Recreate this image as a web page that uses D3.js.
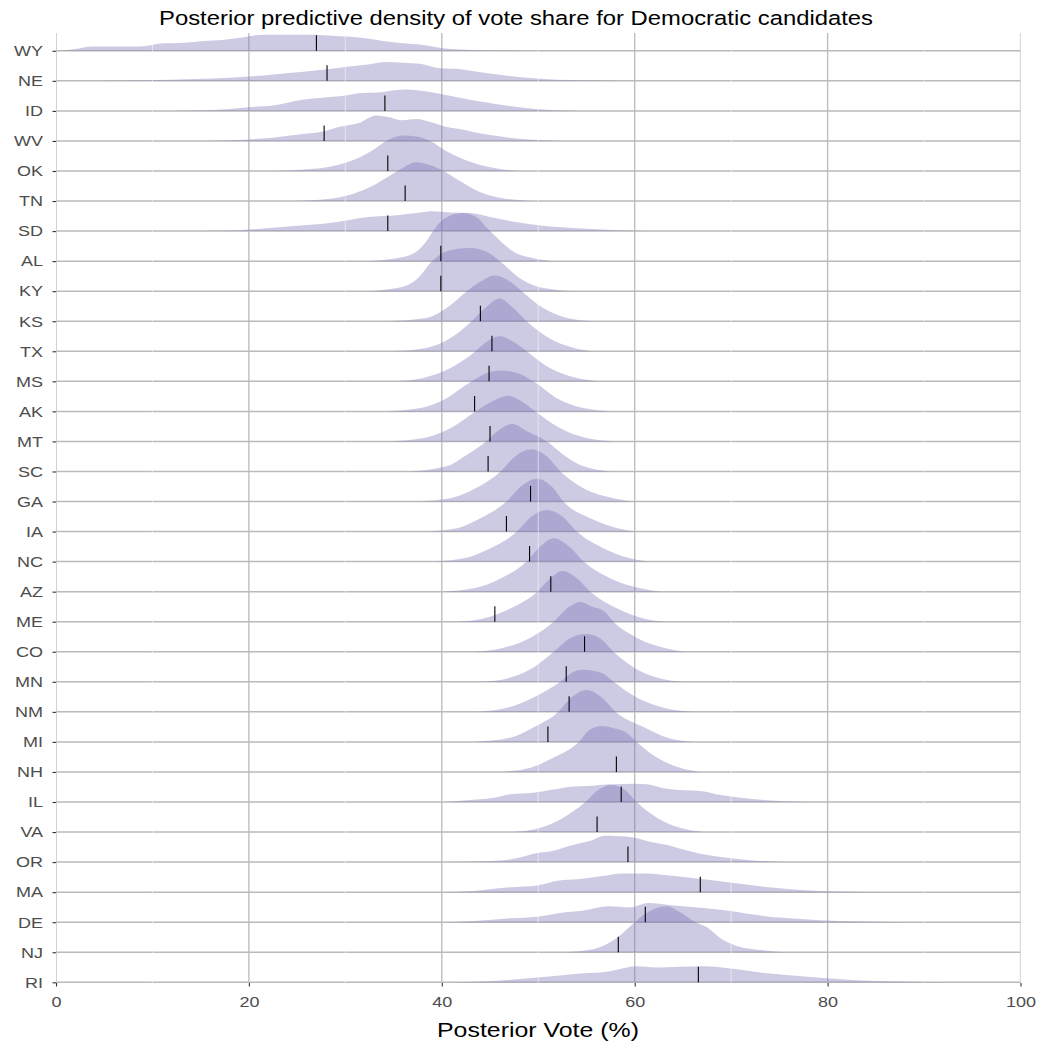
<!DOCTYPE html>
<html>
<head>
<meta charset="utf-8">
<script src="https://cdn.jsdelivr.net/npm/d3@7"></script>
<style>
  body { margin: 0; background: #fff; }
  text { font-family: "Liberation Sans", Arial, Helvetica, sans-serif; }
</style>
</head>
<body>
<div id="chart"></div>
<script>
// states, top to bottom
var states = ["WY","NE","ID","WV","OK","TN","SD","AL","KY","KS","TX","MS","AK","MT","SC","GA",
              "IA","NC","AZ","ME","CO","MN","NM","MI","NH","IL","VA","OR","MA","DE","NJ","RI"];

// observed vote share (black tick marks)
var voteShare = [27.0,28.1,34.1,27.8,34.4,36.2,34.4,39.9,39.9,44.0,45.2,44.9,43.4,45.0,44.8,49.2,
                 46.7,49.1,51.3,45.5,54.8,52.9,53.2,51.0,58.1,58.6,56.1,59.3,66.8,61.1,58.3,66.6];

var xTicks = [0,20,40,60,80,100];
var minorTicks = [10,30,50,70,90];

// posterior density per state: [vote %, height in row units], same order as states
var ridges = [
  [[0.2,0],[2.2,.07],[3.7,.14],[8.8,.14],[10.8,.24],[13.3,.27],[15.3,.33],[17.3,.36],[19.3,.44],[20.8,.52],[22.4,.53],[26.4,.53],[28.9,.49],[31.4,.44],[33.9,.33],[36.4,.24],[38.4,.18],[39.9,.09],[41.9,.04],[44.5,.02],[48.5,0]],
  [[4,0],[9.3,.02],[14.3,.06],[16.8,.09],[19.3,.13],[21.8,.19],[24.4,.27],[26.4,.33],[29.4,.44],[31.9,.53],[34.4,.63],[35.9,.6],[37.9,.56],[39.4,.44],[40.4,.41],[41.5,.4],[43.5,.31],[46,.2],[48.5,.11],[52,.04],[57,.01],[59.6,0]],
  [[11.8,0],[16.8,.04],[20.3,.13],[22.9,.2],[25.4,.36],[28.4,.46],[30.4,.53],[31.4,.59],[33.4,.61],[34.9,.68],[36.4,.71],[37.9,.67],[39.9,.56],[42.5,.4],[44.5,.29],[47,.16],[49.5,.07],[52,.02],[54.5,0]],
  [[15.3,0],[19.3,.04],[22.4,.11],[25.4,.22],[27.9,.33],[29.4,.47],[31.4,.6],[33.2,.85],[34.4,.8],[35.9,.69],[37.4,.73],[38.9,.62],[40.4,.47],[42.5,.36],[44.5,.22],[47,.11],[49.5,.04],[52,.01],[54,0]],
  [[22.4,0],[25.4,.04],[29.4,.22],[31.4,.44],[32.9,.71],[34.4,1.02],[35.9,1.18],[37.4,1.15],[38.9,.98],[40.4,.67],[42,.42],[44,.2],[46,.07],[48.5,0]],
  [[24.4,0],[27.4,.04],[30.4,.2],[32.4,.44],[34.4,.8],[35.9,1.09],[37.3,1.29],[38.9,1.18],[40.4,.96],[42,.64],[44,.29],[46,.11],[48.5,.02],[50.5,0]],
  [[14.3,0],[19.3,.04],[24.4,.16],[28.4,.27],[32.4,.47],[35.4,.53],[37.4,.6],[38.9,.66],[40.9,.62],[42.9,.6],[45,.47],[47.5,.31],[50.5,.18],[54.5,.09],[58.5,.03],[62,0]],
  [[32.2,0],[35.7,.12],[37.4,.32],[38.4,.66],[39.1,1.0],[40.2,1.4],[42.1,1.6],[43.6,1.46],[44.7,1.1],[46.1,.66],[47.4,.32],[49.5,.1],[51.6,0]],
  [[32.2,0],[34.3,.06],[36.4,.2],[37.4,.4],[39,1.0],[40.5,1.33],[42.9,1.44],[44.7,1.3],[46.1,.98],[47.8,.5],[49.5,.2],[51.6,.06],[53.7,0]],
  [[34.3,0],[38.4,.11],[40.5,.44],[42.6,1.0],[44,1.31],[45.5,1.52],[47.1,1.31],[48.3,1.0],[50.5,.44],[53,.11],[55.7,0]],
  [[35,0],[38.4,.11],[40.9,.44],[43.1,1.0],[44.5,1.44],[46,1.76],[47.4,1.44],[48.8,1.0],[51.1,.44],[53.7,.11],[55.7,0]],
  [[35.3,0],[38.1,.11],[40.9,.44],[43.5,1.0],[44.5,1.28],[46,1.5],[47.6,1.28],[48.8,1.0],[51.2,.44],[54,.11],[56.4,0]],
  [[34.3,0],[37.8,.11],[40.5,.44],[43.1,1.0],[44.7,1.28],[46.2,1.36],[47.8,1.28],[49.5,1.0],[51.9,.44],[54.7,.11],[57.5,0]],
  [[34.7,0],[38.1,.11],[40.9,.44],[43.5,1.0],[45.2,1.33],[46.9,1.52],[48.3,1.33],[49.7,1.0],[52.3,.44],[55,.11],[57.8,0]],
  [[36.7,0],[40.5,.17],[42.6,.56],[44.6,1.0],[45.8,1.35],[47.3,1.58],[48.8,1.35],[50.9,1.0],[52.6,.56],[54.7,.17],[57.5,0]],
  [[37.4,0],[40.9,.11],[43.5,.44],[46.1,1.0],[47.6,1.5],[49.3,1.74],[50.9,1.5],[52.3,1.0],[54.7,.44],[57.8,.11],[59.9,0]],
  [[38.5,0],[41.6,.11],[44,.44],[46.7,1.0],[48.2,1.5],[49.9,1.76],[51.4,1.5],[52.6,1.0],[55.4,.44],[58.2,.11],[60.2,0]],
  [[39.2,0],[42.3,.11],[45,.44],[47.8,1.0],[49.3,1.5],[50.9,1.72],[52.5,1.5],[54,1.0],[56.8,.44],[59.5,.11],[61.6,0]],
  [[40.2,0],[43.3,.11],[46.1,.44],[48.8,1.0],[50.2,1.5],[51.6,1.78],[53.2,1.5],[54.7,1.0],[57.5,.44],[60.6,.11],[62.7,0]],
  [[41.6,0],[44.3,.11],[47.1,.44],[49.9,1.0],[51.1,1.4],[52.5,1.69],[54,1.45],[55.4,1.0],[58.2,.44],[60.9,.11],[63.3,0]],
  [[43.3,0],[46.1,.11],[49.2,.47],[51.6,1.0],[53,1.45],[54.4,1.66],[55.6,1.5],[56.8,1.36],[57.8,1.0],[60.2,.47],[63.3,.11],[65.1,0]],
  [[44.3,0],[47.1,.14],[49.5,.48],[51.6,1.0],[53.3,1.45],[54.9,1.59],[56.4,1.45],[57.8,1.0],[59.9,.48],[62.3,.14],[65.1,0]],
  [[43.3,0],[46.8,.14],[49.5,.48],[52.3,1.0],[53.5,1.3],[54.5,1.4],[55.8,1.36],[56.8,1.26],[57.8,1.0],[60.2,.48],[63,.14],[66.1,0]],
  [[43.3,0],[47.1,.14],[49.5,.48],[52.1,1.0],[53.5,1.5],[55,1.73],[56.5,1.5],[58,1.0],[61,.48],[63.4,.14],[66.1,0]],
  [[46.1,0],[49.2,.14],[51.6,.48],[54.2,1.0],[55.3,1.4],[56.6,1.53],[57.9,1.45],[59,1.34],[60.2,1.0],[62.3,.48],[64.7,.14],[66.8,0]],
  [[40.2,0],[42.6,.06],[45.4,.14],[47.1,.26],[49.5,.31],[51.6,.42],[53.7,.52],[55,.53],[56.4,.57],[57.8,.59],[59.9,.61],[61.3,.59],[63,.46],[65.1,.39],[66.8,.37],[68.9,.23],[71,.14],[73.7,.06],[77.2,.01],[80,0]],
  [[47.4,0],[50.2,.14],[52.6,.48],[54.9,1.0],[56.2,1.4],[57.6,1.57],[59,1.4],[60.2,1.0],[62.3,.48],[64.7,.14],[67.1,0]],
  [[40,0],[45.2,.04],[47.5,.11],[49.9,.3],[51.6,.38],[53.5,.56],[55.4,.71],[56.9,.88],[58,.87],[60,.81],[61.8,.66],[63.5,.56],[65.1,.41],[66.8,.28],[68.9,.17],[72,.06],[75.5,0]],
  [[40,0],[43.3,.04],[47.1,.16],[49.9,.22],[52,.38],[54.3,.44],[56.5,.53],[58.8,.62],[61.4,.62],[63.3,.56],[66,.47],[70.1,.31],[73.9,.16],[77.3,.07],[81.1,.02],[86.7,0]],
  [[40,0],[43.3,.04],[47.1,.13],[49.9,.18],[52.8,.33],[54.6,.38],[57.3,.53],[59.5,.49],[61.4,.64],[64.1,.56],[67.1,.47],[69.7,.38],[73.5,.2],[77.3,.11],[81.1,.04],[86.7,.01],[90.5,0]],
  [[52.8,0],[55.8,.11],[58,.44],[60,1.0],[61.1,1.28],[63.3,1.53],[64.7,1.33],[66.3,1.0],[67.5,.83],[69,.44],[70.5,.22],[73.5,.06],[75.4,0]],
  [[41.4,0],[45.2,.04],[49.9,.16],[53.5,.27],[57.3,.36],[60.3,.53],[62.2,.49],[67.1,.53],[69.7,.47],[73.5,.31],[77.3,.2],[81.1,.11],[84.8,.04],[90.5,.01],[95,0]]
];

function init(){

  var w = 1046, h = 1050;
  var left = 56, right = 1020.5, top = 33, bottom = 983;

  var svg = d3.select("#chart")
    .append("svg")
      .attr("width", w)
      .attr("height", h);

  // panel clip so edge gridlines get cut in half like the original
  svg.append("clipPath").attr("id", "panel")
    .append("rect")
      .attr("x", left).attr("y", top)
      .attr("width", right - left).attr("height", bottom - top);

  var x = d3.scaleLinear().domain([0, 100]).range([left, right]);
  var y = d3.scalePoint().domain(states).range([50.8, 982.3]);
  var rowStep = y.step();
  var hScale = d3.scaleLinear().domain([0, 1]).range([0, rowStep]);

  var panel = svg.append("g").attr("clip-path", "url(#panel)");

  // major gridlines
  panel.selectAll(".vgrid")
    .data(xTicks)
    .enter().append("line")
      .attr("x1", function(d){ return x(d); })
      .attr("x2", function(d){ return x(d); })
      .attr("y1", top).attr("y2", bottom)
      .attr("stroke", "#bababa")
      .attr("stroke-width", 1.3);

  panel.selectAll(".hgrid")
    .data(states)
    .enter().append("line")
      .attr("x1", left).attr("x2", right)
      .attr("y1", function(d){ return y(d); })
      .attr("y2", function(d){ return y(d); })
      .attr("stroke", "#bababa")
      .attr("stroke-width", 1.5);

  // ridges
  var area = d3.area()
    .x(function(d){ return x(d[0]); })
    .y0(0)
    .y1(function(d){ return -hScale(d[1]); })
    .curve(d3.curveMonotoneX);

  panel.selectAll(".ridge")
    .data(ridges)
    .enter().append("path")
      .attr("class", "ridge")
      .attr("transform", function(d, i){ return "translate(0," + y(states[i]) + ")"; })
      .attr("d", area)
      .attr("fill", "#756bb1")
      .attr("fill-opacity", 0.36);

  // faint minor gridlines show through the fills
  panel.selectAll(".minor")
    .data(minorTicks)
    .enter().append("line")
      .attr("x1", function(d){ return x(d); })
      .attr("x2", function(d){ return x(d); })
      .attr("y1", top).attr("y2", bottom)
      .attr("stroke", "#ffffff")
      .attr("stroke-opacity", 0.45)
      .attr("stroke-width", 1.2);

  // observed vote share
  panel.selectAll(".obs")
    .data(voteShare)
    .enter().append("line")
      .attr("x1", function(d){ return x(d); })
      .attr("x2", function(d){ return x(d); })
      .attr("y1", function(d, i){ return y(states[i]); })
      .attr("y2", function(d, i){ return y(states[i]) - 15.5; })
      .attr("stroke", "#000")
      .attr("stroke-width", 1.1);

  // y axis
  var yAxis = svg.append("g")
    .attr("transform", "translate(" + left + ",0)")
    .call(d3.axisLeft(y).tickSize(3.5).tickPadding(7.3));
  yAxis.select(".domain").remove();
  yAxis.selectAll("line").attr("stroke", "#333").attr("stroke-width", 1.1);
  yAxis.selectAll("text")
    .attr("transform", "scale(1.2,1)")
    .style("font-size", "15px")
    .attr("fill", "#4d4d4d");

  // x axis
  var xAxis = svg.append("g")
    .attr("transform", "translate(0," + bottom + ")")
    .call(d3.axisBottom(x).tickValues(xTicks).tickSize(3.5).tickPadding(9.5));
  xAxis.select(".domain").remove();
  xAxis.selectAll("line").attr("stroke", "#333").attr("stroke-width", 1.1);
  xAxis.selectAll("text")
    .attr("transform", "scale(1.2,1)")
    .style("font-size", "15px")
    .attr("fill", "#4d4d4d");

  // titles
  svg.append("text")
    .attr("x", 159)
    .attr("y", 25)
    .attr("textLength", 714)
    .attr("lengthAdjust", "spacingAndGlyphs")
    .style("font-size", "20.5px")
    .attr("fill", "#000")
    .text("Posterior predictive density of vote share for Democratic candidates");

  svg.append("text")
    .attr("x", 437)
    .attr("y", 1036.5)
    .attr("textLength", 202)
    .attr("lengthAdjust", "spacingAndGlyphs")
    .style("font-size", "20.5px")
    .attr("fill", "#000")
    .text("Posterior Vote (%)");
}
window.onload = init;
</script>
</body>
</html>
